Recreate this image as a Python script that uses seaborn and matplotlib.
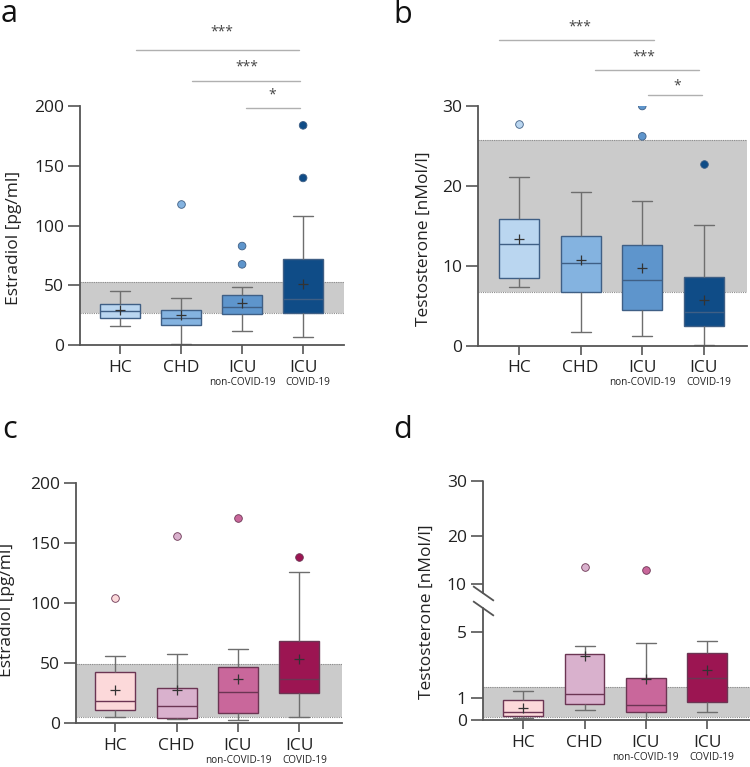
import numpy as np
import pandas as pd
import matplotlib
matplotlib.use("Agg")
import matplotlib.pyplot as plt
from matplotlib.transforms import blended_transform_factory
import seaborn as sns

sns.set_style("ticks")
plt.rcParams['font.family'] = ['Open Sans', 'DejaVu Sans']

groups = ["HC", "CHD", "ICU non-COVID-19", "ICU COVID-19"]
tick_main = ["HC", "CHD", "ICU", "ICU"]
tick_sub = ["", "", "non-COVID-19", "COVID-19"]

# a - estradiol (blue)
a_low = [15.6, 0.5, 12.0, 6.4]
a_q1 = [23.0, 17.0, 26.0, 27.0]
a_med = [28.5, 22.3, 31.8, 38.5]
a_q3 = [34.0, 29.0, 41.8, 72.0]
a_high = [45.2, 39.0, 48.3, 107.7]
a_mean = [29.0, 25.0, 35.4, 51.3]
a_out_grp = ["CHD", "ICU non-COVID-19", "ICU non-COVID-19", "ICU COVID-19", "ICU COVID-19"]
a_out_val = [118.0, 82.8, 67.5, 183.8, 139.8]
a_ref = [27.0, 52.4]
a_sig_lines = [(0.26, 2.93, 247), (1.18, 2.95, 221), (2.07, 2.95, 198)]
a_sig_text = [(1.66, 262, "***"), (2.08, 233, "***"), (2.49, 209, "*")]

# b - testosterone (blue)
b_low = [7.3, 1.67, 1.25, 0.13]
b_q1 = [8.47, 6.72, 4.42, 2.46]
b_med = [12.77, 10.4, 8.26, 4.17]
b_q3 = [15.9, 13.7, 12.64, 8.6]
b_high = [21.15, 19.27, 18.06, 15.06]
b_mean = [13.3, 10.7, 9.76, 5.76]
b_out_grp = ["HC", "ICU non-COVID-19", "ICU non-COVID-19", "ICU COVID-19"]
b_out_val = [27.7, 30.0, 26.2, 22.7]
b_ref = [6.67, 25.8]
b_sig_lines = [(-0.32, 2.19, 38.2), (1.23, 2.92, 34.5), (2.09, 2.97, 31.4)]
b_sig_text = [(0.99, 39.9, "***"), (2.03, 36.1, "***"), (2.56, 32.5, "*")]

# c - estradiol (pink)
c_low = [5.0, 3.5, 2.5, 5.0]
c_q1 = [10.8, 4.2, 8.9, 25.6]
c_med = [18.9, 14.7, 25.8, 36.7]
c_q3 = [43.0, 29.2, 46.7, 68.9]
c_high = [56.4, 57.8, 62.2, 125.8]
c_mean = [27.8, 27.5, 37.2, 53.3]
c_out_grp = ["HC", "CHD", "ICU non-COVID-19", "ICU COVID-19"]
c_out_val = [104.4, 155.8, 170.8, 138.3]
c_ref = [5.0, 49.2]

# d - testosterone (pink), broken axis
d_low = [0.09, 0.46, 0.03, 0.35]
d_q1 = [0.18, 0.72, 0.35, 0.82]
d_med = [0.37, 1.22, 0.68, 2.21]
d_q3 = [0.88, 3.65, 2.17, 3.69]
d_high = [1.38, 4.15, 4.29, 4.41]
d_mean = [0.53, 3.53, 2.13, 2.7]
d_out_grp = ["CHD", "ICU non-COVID-19"]
d_out_val = [13.6, 12.9]
d_ref = [0.13, 1.67]

blues = ["#bad6f0", "#84b3e0", "#5e95cc", "#0f4c87"]
pinks = ["#fcd9da", "#d9b1cd", "#c9679b", "#9c1552"]

spine_col = "#555555"
W, H = 750, 767
fig = plt.figure(figsize=(W / 100, H / 100), dpi=100)


def px_axes(left, right, bottom, top):
    return fig.add_axes([left / W, 1 - bottom / H, (right - left) / W, (bottom - top) / H])


def panel(ax, low, q1, med, q3, high, mean, out_grp, out_val, ref, pal, edge,
          ylabel, lab_xy, xlim, ylim, yticks):
    rows = []
    for g, vals in zip(groups, zip(low, q1, med, q3, high)):
        for v in vals:
            rows.append({"group": g, "value": v})
    df = pd.DataFrame(rows)

    ax.axhspan(ref[0], ref[1], color="#cbcbcb", lw=0, zorder=0)
    for r in ref:
        ax.axhline(r, color="#8c8c8c", lw=0.8, ls=(0, (1, 1)), zorder=0.5)

    sns.boxplot(data=df, x="group", y="value", hue="group", order=groups,
                hue_order=groups, palette=pal, saturation=1, whis=(0, 100),
                showfliers=False, width=0.65, linecolor=edge, linewidth=1.0,
                whiskerprops=dict(color="#6e6e6e"), capprops=dict(color="#6e6e6e"),
                legend=False, ax=ax)
    sns.stripplot(x=out_grp, y=out_val, hue=out_grp, order=groups, hue_order=groups,
                  palette=pal, jitter=False, size=5.5, linewidth=0.6, edgecolor=edge,
                  legend=False, ax=ax, zorder=4)
    ax.scatter(np.arange(len(groups)), mean, marker="+", s=60, color="#333333",
               linewidth=0.9, zorder=5)

    ax.set_xlim(*xlim)
    ax.set_ylim(*ylim)
    ax.set_yticks(yticks)
    ax.set_xticks(range(len(groups)))
    ax.set_xticklabels(tick_main, fontsize=12.5, color="#222222")
    for i, s in enumerate(tick_sub):
        if s:
            dx = 5 if i == 3 else 0
            ax.annotate(s, xy=(i, 0), xycoords=("data", "axes fraction"),
                        xytext=(dx, -37), textcoords="offset pixels",
                        ha="center", va="center", fontsize=7.2, color="#222222")
    ax.tick_params(axis="y", length=8.5, width=1.2, pad=3, labelsize=12.5,
                   color=spine_col, labelcolor="#222222")
    ax.tick_params(axis="x", length=6.5, width=1.2, pad=4, color=spine_col)
    ax.set_xlabel("")
    ax.set_ylabel(ylabel, fontsize=12.5, color="#222222")
    ax.yaxis.set_label_coords(*lab_xy)
    sns.despine(ax=ax)
    for s in ["left", "bottom"]:
        ax.spines[s].set_color(spine_col)
        ax.spines[s].set_linewidth(1.3)


def sig(ax, lines, texts):
    for x0, x1, y in lines:
        ax.plot([x0, x1], [y, y], color="#b0b0b0", lw=1.0, clip_on=False)
    for x, y, t in texts:
        ax.text(x, y, t, ha="center", va="center", fontsize=10, color="#444444")


ax_a = px_axes(80, 344, 345, 106)
panel(ax_a, a_low, a_q1, a_med, a_q3, a_high, a_mean, a_out_grp, a_out_val, a_ref,
      blues, "#3f5f85", "Estradiol [pg/ml]", (-0.22, 0.45), (-0.656, 3.67), (0, 200),
      [0, 50, 100, 150, 200])
sig(ax_a, a_sig_lines, a_sig_text)

ax_b = px_axes(478, 747, 345.7, 106)
panel(ax_b, b_low, b_q1, b_med, b_q3, b_high, b_mean, b_out_grp, b_out_val, b_ref,
      blues, "#3f5f85", "Testosterone [nMol/l]", (-0.171, 0.445), (-0.666, 3.70), (0, 30),
      [0, 10, 20, 30])
sig(ax_b, b_sig_lines, b_sig_text)

ax_c = px_axes(76, 341.7, 723.3, 483.3)
panel(ax_c, c_low, c_q1, c_med, c_q3, c_high, c_mean, c_out_grp, c_out_val, c_ref,
      pinks, "#6b3553", "Estradiol [pg/ml]", (-0.23, 0.472), (-0.64, 3.69), (0, 200),
      [0, 50, 100, 150, 200])

# broken, piecewise scale for d
knots_val = [0, 1, 5, 10, 20, 30]
knots_pos = [0, 68, 266, 409, 552, 719]


def fwd(v):
    return np.interp(v, knots_val, knots_pos)


def inv(p):
    return np.interp(p, knots_pos, knots_val)


ax_d = px_axes(482.7, 750, 720.3, 480.7)
ax_d.set_yscale("function", functions=(fwd, inv))
panel(ax_d, d_low, d_q1, d_med, d_q3, d_high, d_mean, d_out_grp, d_out_val, d_ref,
      pinks, "#6b3553", "Testosterone [nMol/l]", (-0.18, 0.452), (-0.662, 3.70), (0, 30),
      [0, 1, 5, 10, 20, 30])
ax_d.set_yscale("function", functions=(fwd, inv))
ax_d.set_ylim(0, 30)
ax_d.set_yticks(knots_val)
ax_d.set_yticklabels([str(v) for v in knots_val])
ax_d.spines["left"].set_visible(False)
tr = blended_transform_factory(ax_d.transAxes, ax_d.transData)
ax_d.plot([0, 0], [0, 7.5], color=spine_col, lw=1.3, transform=tr, clip_on=False)
ax_d.plot([0, 0], [9.05, 30], color=spine_col, lw=1.3, transform=tr, clip_on=False)
ax_d.plot([0, 0], [7.5, 9.05], ls="none", marker=[(-1, 0.7), (1, -0.7)],
          markersize=15, markeredgewidth=1.3, color=spine_col, transform=tr, clip_on=False)

for lbl, x, y in [("a", 1, 22), ("b", 393, 23), ("c", 2, 438), ("d", 393, 438)]:
    fig.text(x / W, 1 - y / H, lbl, fontsize=22, color="#111111", va="baseline")

fig.savefig("out.png", dpi=100)
